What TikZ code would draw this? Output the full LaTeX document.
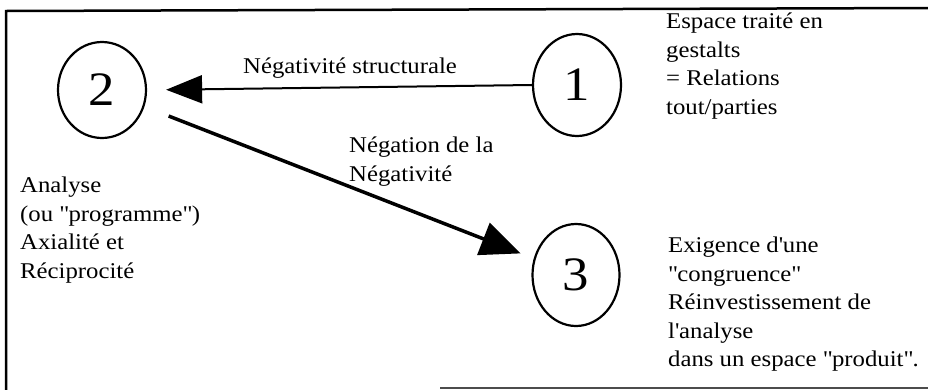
\documentclass[tikz,border=0pt]{standalone}
\usepackage{fontspec}
\setmainfont[FakeStretch=1.1]{Liberation Serif}
\usetikzlibrary{arrows.meta,shapes.geometric}
\newcommand{\dq}{\textquotedbl}
\newcommand{\sq}{\textquotesingle}
\tikzset{
  num/.style={draw, line width=2.2pt, ellipse, inner sep=0pt, font=\fontsize{48}{48}\selectfont},
  txt/.style={anchor=north west, align=left, inner sep=0pt, font=\fontsize{22.5}{28.5}\selectfont},
  frame/.style={line width=2.5pt},
}
\begin{document}
\begin{tikzpicture}[x=1pt,y=-1pt]
\useasboundingbox (0,0) rectangle (928,389);
% frame
\coordinate (tl) at (6,11);
\coordinate (tr) at (930,8);
\coordinate (bl) at (6,391);
\coordinate (bm) at (440,388);
\coordinate (br) at (930,388);
\draw[frame] (bl) -- (tl) -- (tr);
\draw[frame, black!70] (bm) -- (br);
% circles
\node[num, minimum width=88pt, minimum height=96pt] (n2) at (102,90) {2};
\node[num, minimum width=88pt, minimum height=102pt] (n1) at (577,85) {1};
\node[num, minimum width=87pt, minimum height=102pt] (n3) at (576,275) {3};
% arrows
\draw[line width=2pt, -{Triangle[length=36pt,width=28pt]}, shorten >=19pt] (n1.west) -- (n2.east);
\draw[line width=3.5pt, -{Triangle[length=40pt,width=34pt]}, shorten <=26pt, shorten >=14pt] (n2) -- (n3);
% texts
\node[txt] (t12) at (243,58) {Négativité structurale};
\node[txt] (t23) at (349,137) {Négation de la\\Négativité};
\node[txt] (tl2) at (20,177) {Analyse\\(ou \dq programme\dq)\\Axialité et\\Réciprocité};
\node[txt] (tr1) at (666,13) {Espace traité en\\gestalts\\= Relations\\tout/parties};
\node[txt] (tr3) at (668,237) {Exigence d\sq une\\\dq congruence\dq\\Réinvestissement de\\l\sq analyse\\dans un espace \dq produit\dq.};
\end{tikzpicture}
\end{document}
